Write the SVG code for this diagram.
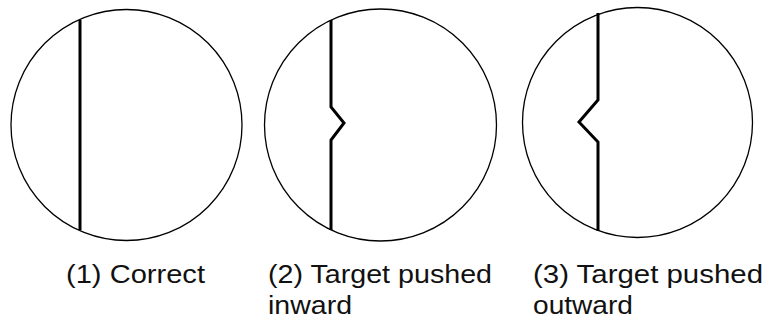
<svg xmlns="http://www.w3.org/2000/svg" width="767" height="320" viewBox="0 0 767 320">
<style>
.ring{fill:none;stroke:#000;stroke-width:1.3}
.edge{fill:none;stroke:#000;stroke-width:3;stroke-linejoin:miter}
.lbl{font-family:"Liberation Sans",Arial,sans-serif;font-size:25px;fill:#111}
</style>
<rect width="767" height="320" fill="#fff"/>
<g id="node1">
<circle class="ring" cx="126.5" cy="125" r="115.5"/>
<text class="lbl" x="66" y="283" textLength="139" lengthAdjust="spacingAndGlyphs">(1) Correct</text>
</g>
<g id="node2">
<circle class="ring" cx="380.5" cy="125" r="116"/>
<text class="lbl" x="268" y="283" textLength="224" lengthAdjust="spacingAndGlyphs">(2) Target pushed</text>
<text class="lbl" x="268" y="314" textLength="84" lengthAdjust="spacingAndGlyphs">inward</text>
</g>
<g id="node3">
<circle class="ring" cx="637.5" cy="122.5" r="115"/>
<text class="lbl" x="533" y="283" textLength="230" lengthAdjust="spacingAndGlyphs">(3) Target pushed</text>
<text class="lbl" x="533" y="314" textLength="100" lengthAdjust="spacingAndGlyphs">outward</text>
</g>
<g id="connectors">
<path class="edge" d="M80 20 V230"/>
<path class="edge" d="M331 20 V107 L344 123 L331 140 V230"/>
<path class="edge" d="M598 13 V100 L579 122 L598 142 V231"/>
</g>
</svg>
